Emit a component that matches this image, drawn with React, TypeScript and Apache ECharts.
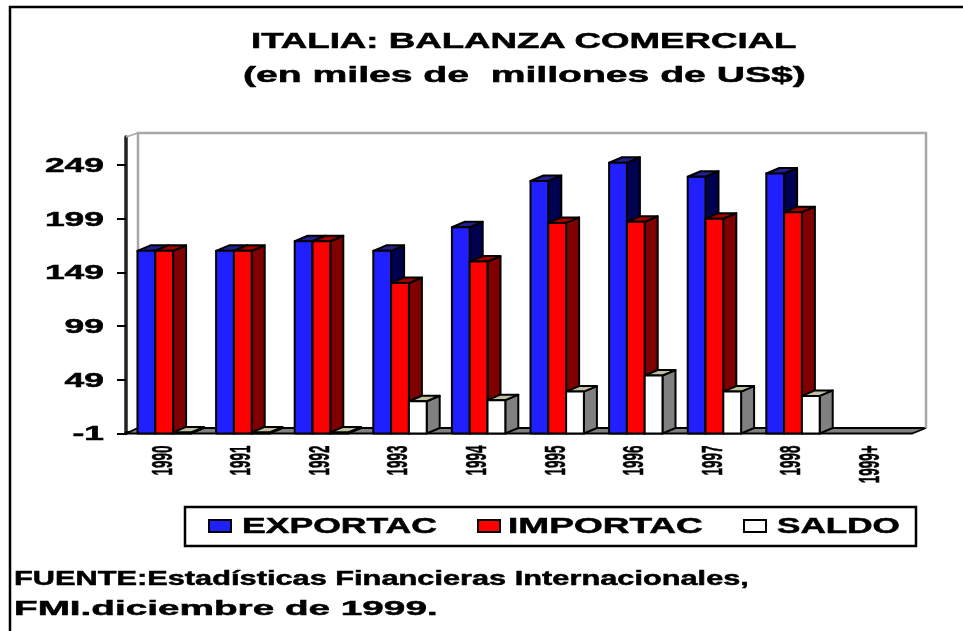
import React, { useEffect, useRef } from "react";
import * as echarts from "echarts";

const categories = ["1990", "1991", "1992", "1993", "1994", "1995", "1996", "1997", "1998", "1999+"];
const exportac = [169, 169, 178, 169, 191, 234, 251, 238, 241, null];
const importac = [169, 169, 178, 139, 159, 195, 196, 199, 205, null];
const saldo = [0, 0, 0, 29, 30, 38, 53, 38, 34, null];
const yTicks = [-1, 49, 99, 149, 199, 249];

const W = 963;
const H = 631;
const FONT = "'Liberation Sans', Arial, sans-serif";
const DX = 13;
const DY = 5.5;
const BAR_W = 17.8;
const GROUP_OFF = 11.5;

function natural(text: string, size: number) {
  const ctx = document.createElement("canvas").getContext("2d")!;
  ctx.font = `bold ${size}px 'Liberation Sans'`;
  return ctx.measureText(text).width;
}

function shaded(seriesIdx: number, front: string, top: string, side: string) {
  return (params: any, api: any) => {
    const v = api.value(1);
    if (v == null || isNaN(v)) return { type: "group", children: [] };
    const cat = api.value(0);
    const [cx, y] = api.coord([cat, v]);
    const [, y0] = api.coord([cat, -1]);
    const band = api.size([1, 0])[0];
    const x = cx - band / 2 + GROUP_OFF + seriesIdx * BAR_W;
    const st = { stroke: "#000", lineWidth: 2, lineJoin: "round" };
    return {
      type: "group",
      children: [
        {
          type: "polygon",
          shape: { points: [[x + BAR_W, y], [x + BAR_W + DX, y - DY], [x + BAR_W + DX, y0 - DY], [x + BAR_W, y0]] },
          style: { fill: side, ...st },
        },
        {
          type: "polygon",
          shape: { points: [[x, y], [x + DX, y - DY], [x + BAR_W + DX, y - DY], [x + BAR_W, y]] },
          style: { fill: top, ...st },
        },
        { type: "rect", shape: { x, y, width: BAR_W, height: y0 - y }, style: { fill: front, ...st } },
      ],
    };
  };
}

const renderWalls = (params: any) => {
  const cs = params.coordSys;
  const l = cs.x;
  const r = cs.x + cs.width;
  const t = cs.y;
  const b = cs.y + cs.height;
  const grey = { stroke: "#a8a8a8", lineWidth: 2.5 };
  return {
    type: "group",
    children: [
      {
        type: "polygon",
        shape: { points: [[l, b], [l + 12, b - DY], [r + 14, b - DY], [r, b]] },
        style: { fill: "#808080", stroke: "#000", lineWidth: 1.8 },
      },
      {
        type: "polyline",
        shape: { points: [[l + 12, b - DY], [l + 12, t - 4], [r + 14, t - 4], [r + 14, b - DY]] },
        style: { fill: "none", ...grey },
      },
      {
        type: "line",
        shape: { x1: l, y1: t, x2: l + 12, y2: t - 4 },
        style: { stroke: "#a8a8a8", lineWidth: 1.5 },
      },
    ],
  };
};

const renderYLabel = (params: any, api: any) => {
  const v = api.value(0);
  const [x, y] = api.coord([0, v]);
  const band = api.size([1, 0])[0];
  return {
    type: "text",
    x: x - band / 2 - 22,
    y,
    scaleX: 1.77,
    style: {
      text: String(v),
      fill: "#000",
      stroke: "#000",
      lineWidth: 0.5,
      font: `bold 20px ${FONT}`,
      textAlign: "right",
      textVerticalAlign: "middle",
    },
  };
};

const renderXLabel = (params: any, api: any) => {
  const i = api.value(0);
  const [x, y] = api.coord([i, -1]);
  return {
    type: "text",
    x: x - 4,
    y: y + 12,
    rotation: Math.PI / 2,
    scaleX: 0.84,
    scaleY: 1.9,
    style: {
      text: categories[i],
      fill: "#000",
      stroke: "#000",
      lineWidth: 0.3,
      font: `bold 16px ${FONT}`,
      textAlign: "right",
      textVerticalAlign: "middle",
    },
  };
};

function stretched(text: string, x: number, y: number, width: number, size: number) {
  return {
    type: "text",
    x,
    y,
    scaleX: width / natural(text, size),
    z: 101,
    style: {
      text,
      x: 0,
      y: 0,
      fill: "#000",
      stroke: "#000",
      lineWidth: 0.5,
      font: `bold ${size}px ${FONT}`,
      textAlign: "left",
      textVerticalAlign: "middle",
    },
  };
}

export default function App() {
  const ref = useRef<HTMLDivElement>(null);
  useEffect(() => {
    const chart = echarts.init(ref.current!, null, { renderer: "svg" });
    const swatch = (x: number, fill: string) => ({
      type: "rect",
      z: 101,
      shape: { x, y: 520, width: 22, height: 12 },
      style: { fill, stroke: "#000", lineWidth: 2 },
    });
    chart.setOption({
      animation: false,
      backgroundColor: "#fff",
      grid: { left: 126, right: 51, top: 137, bottom: 197.5 },
      xAxis: {
        type: "category",
        data: categories,
        axisLine: { lineStyle: { color: "#111", width: 3 } },
        axisTick: { length: 7, lineStyle: { color: "#000", width: 2 } },
        axisLabel: { show: false },
      },
      yAxis: {
        type: "value",
        min: -1,
        max: 275,
        splitLine: { show: false },
        axisLine: { show: true, lineStyle: { color: "#222", width: 3.5 } },
        axisTick: { show: true, length: 9, customValues: yTicks, lineStyle: { color: "#000", width: 2 } },
        axisLabel: { show: false },
      },
      series: [
        { type: "custom", name: "walls", z: 1, silent: true, clip: false, data: [[0, 0]], renderItem: renderWalls },
        {
          type: "custom", name: "EXPORTAC", z: 2, clip: false,
          encode: { x: 0, y: 1 },
          data: exportac.map((v, i) => [i, v]),
          renderItem: shaded(0, "#2020ff", "#202090", "#000050"),
        },
        {
          type: "custom", name: "IMPORTAC", z: 3, clip: false,
          encode: { x: 0, y: 1 },
          data: importac.map((v, i) => [i, v]),
          renderItem: shaded(1, "#ff0000", "#a00000", "#800000"),
        },
        {
          type: "custom", name: "SALDO", z: 4, clip: false,
          encode: { x: 0, y: 1 },
          data: saldo.map((v, i) => [i, v]),
          renderItem: shaded(2, "#ffffff", "#c0c0a0", "#808080"),
        },
        {
          type: "custom", name: "yLabels", z: 5, silent: true, clip: false,
          encode: { y: 0 },
          data: yTicks.map((v) => [v]),
          renderItem: renderYLabel,
        },
        {
          type: "custom", name: "xLabels", z: 5, silent: true, clip: false,
          encode: { x: 0 },
          data: categories.map((_, i) => [i]),
          renderItem: renderXLabel,
        },
      ],
      graphic: [
        { type: "polyline", silent: true, z: 100, shape: { points: [[10, 640], [10, 7], [963, 7]] }, style: { fill: "none", stroke: "#000", lineWidth: 2.5 } },
        { type: "rect", silent: true, z: 100, shape: { x: 185, y: 507, width: 731, height: 39 }, style: { fill: "#fff", stroke: "#000", lineWidth: 2.5 } },
        swatch(209, "#2020ff"),
        swatch(478, "#ff0000"),
        swatch(744, "#ffffff"),
        stretched("EXPORTAC", 242, 525, 195, 22),
        stretched("IMPORTAC", 508, 525, 195, 22),
        stretched("SALDO", 777, 525, 123, 22),
        stretched("ITALIA: BALANZA COMERCIAL", 251, 40, 547, 22),
        stretched("(en miles de  millones de US$)", 243, 74, 563, 22),
        stretched("FUENTE:Estadísticas Financieras Internacionales,", 14, 578, 735, 21),
        stretched("FMI.diciembre de 1999.", 14, 608, 424, 21),
      ],
    });
    return () => chart.dispose();
  }, []);
  return (
    <div
      ref={ref}
      style={{ position: "absolute", left: 0, top: 0, width: W, height: H, filter: "blur(0.5px)" }}
    />
  );
}
